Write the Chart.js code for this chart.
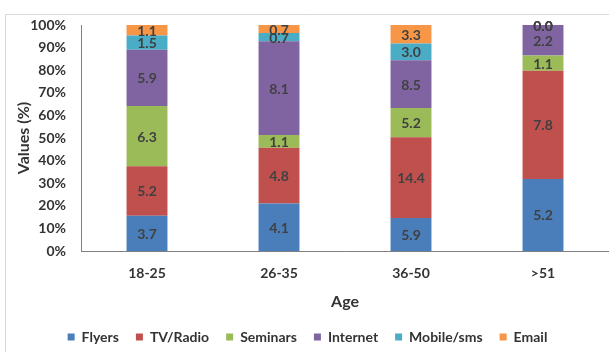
<!DOCTYPE html>
<html>
<head>
<meta charset="utf-8">
<script src="https://cdn.jsdelivr.net/npm/chart.js@4"></script>
<style>
  html, body { margin: 0; padding: 0; background: #fff; }
  #wrap { width: 609px; height: 352px; }
</style>
</head>
<body>
<div id="wrap"><canvas id="ageChart" width="609" height="352"></canvas></div>
<script>
// --- Datos ---
const ageGroups = ["18-25", "26-35", "36-50", ">51"];
const flyers   = [3.7, 4.1, 5.9, 5.2];
const tvRadio  = [5.2, 4.8, 14.4, 7.8];
const seminars = [6.3, 1.1, 5.2, 1.1];
const internet = [5.9, 8.1, 8.5, 2.2];
const mobile   = [1.5, 0.7, 3.0, 0.0];
const email    = [1.1, 0.7, 3.3, 0.0];
const yTicks = [0, 10, 20, 30, 40, 50, 60, 70, 80, 90, 100];

const series = [
    { label: 'Flyers', values: flyers, color: '#4a7ebb' },
    { label: 'TV/Radio', values: tvRadio, color: '#c0504d' },
    { label: 'Seminars', values: seminars, color: '#9bbb59' },
    { label: 'Internet', values: internet, color: '#8064a2' },
    { label: 'Mobile/sms', values: mobile, color: '#4bacc6' },
    { label: 'Email', values: email, color: '#f79646' }
];

// totales por grupo -> barras al 100%
const totals = ageGroups.map((_, i) => series.reduce((s, d) => s + d.values[i], 0));

const FONT = 'Lato, "Open Sans", sans-serif';
const TXT = '#333333';
const LBL = '#404040';

// marco gris claro (como en excel)
const framePlugin = {
    id: 'frame',
    beforeDraw(chart) {
        const ctx = chart.ctx;
        ctx.save();
        ctx.strokeStyle = '#d9d9d9';
        ctx.lineWidth = 1;
        ctx.beginPath();
        ctx.moveTo(609, 14.5);
        ctx.lineTo(5.5, 14.5);
        ctx.lineTo(5.5, 352);
        ctx.stroke();
        ctx.restore();
    }
};

// etiquetas con el valor original en el centro de cada segmento
const valueLabels = {
    id: 'valueLabels',
    afterDatasetsDraw(chart) {
        const ctx = chart.ctx;
        ctx.save();
        ctx.font = 'bold 14px ' + FONT;
        ctx.fillStyle = LBL;
        ctx.textAlign = 'center';
        ctx.textBaseline = 'middle';
        chart.data.datasets.forEach((ds, di) => {
            chart.getDatasetMeta(di).data.forEach((bar, i) => {
                const v = ds.raw[i];
                if (v === null || v === undefined) return;
                const y = (bar.y + bar.base) / 2;
                ctx.fillText(v.toFixed(1), bar.x, y + 1);
            });
        });
        ctx.restore();
    }
};

new Chart(document.getElementById('ageChart'), {
    type: 'bar',
    data: {
        labels: ageGroups,
        datasets: series.map(s => ({
            label: s.label,
            raw: s.values,
            data: s.values.map((v, i) => v / totals[i] * 100),
            backgroundColor: s.color,
            borderWidth: 0,
            categoryPercentage: 1,
            barPercentage: 0.31
        }))
    },
    options: {
        responsive: false,
        animation: false,
        layout: { padding: { left: 6, top: 25, right: 0, bottom: -2 } },
        scales: {
            x: {
                stacked: true,
                grid: { display: false, drawTicks: false },
                border: { color: '#808080', width: 1 },
                ticks: { color: TXT, font: { family: FONT, size: 14, weight: 'bold' }, padding: 14 },
                title: { display: true, text: 'Age', color: TXT, font: { family: FONT, size: 16, weight: 'bold' }, padding: { top: 4, bottom: 2 } },
                afterFit(s) { s.height = 62; }
            },
            y: {
                stacked: true,
                min: 0,
                max: 100,
                afterBuildTicks(s) { s.ticks = yTicks.map(v => ({ value: v })); },
                grid: { display: false, drawTicks: false },
                border: { color: '#808080', width: 1 },
                ticks: {
                    color: TXT,
                    font: { family: FONT, size: 14, weight: 'bold' },
                    padding: 15,
                    callback: v => v + '%'
                },
                title: { display: true, text: 'Values (%)', color: TXT, font: { family: FONT, size: 16, weight: 'bold' }, padding: { top: 8, bottom: 0 } },
                afterFit(s) { s.width = 75; }
            }
        },
        plugins: {
            legend: {
                position: 'bottom',
                labels: {
                    color: TXT,
                    boxWidth: 7,
                    boxHeight: 7,
                    padding: 17,
                    font: { family: FONT, size: 14, weight: 'bold' }
                }
            },
            tooltip: { enabled: false }
        }
    },
    plugins: [framePlugin, valueLabels]
});
</script>
</body>
</html>
